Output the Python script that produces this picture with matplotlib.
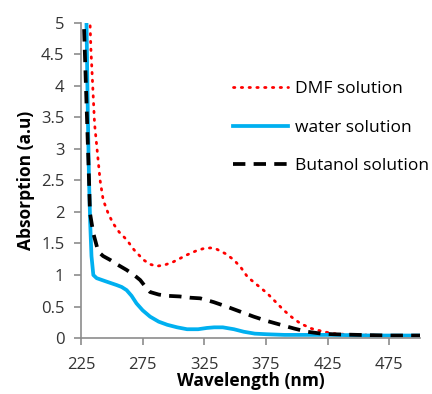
import matplotlib
matplotlib.use('Agg')
from matplotlib import pyplot as plt

# values
dmf_x = [232, 233, 236, 240.5, 243, 247, 251, 256, 262, 268, 275.7, 281, 286.5, 293, 300, 306, 311, 318, 324.4, 330, 335, 342, 349, 355, 360, 368, 376, 383, 389.5, 396, 403, 412, 422, 430, 438, 450, 470, 500]
dmf_y = [5.2, 4.6, 3.4, 2.5, 2.19, 1.98, 1.82, 1.68, 1.56, 1.4, 1.24, 1.17, 1.14, 1.16, 1.21, 1.27, 1.32, 1.38, 1.42, 1.43, 1.41, 1.34, 1.24, 1.11, 0.97, 0.84, 0.71, 0.57, 0.44, 0.33, 0.23, 0.15, 0.1, 0.07, 0.06, 0.05, 0.04, 0.04]

water_x = [229.3, 230.5, 231.5, 232.5, 233.5, 235, 237.7, 245, 254, 258, 262, 266, 270, 275, 281, 288, 295, 303, 311, 320, 327, 333, 340, 349, 357, 366, 376, 390, 410, 430, 460, 500]
water_y = [5.2, 3.6, 2.5, 1.8, 1.3, 1.0, 0.95, 0.9, 0.84, 0.81, 0.76, 0.67, 0.55, 0.44, 0.34, 0.26, 0.21, 0.17, 0.14, 0.14, 0.16, 0.17, 0.17, 0.14, 0.1, 0.07, 0.06, 0.05, 0.05, 0.05, 0.04, 0.04]

butanol_x = [227.5, 229, 230.5, 231.5, 232.3, 235, 239, 243, 248.6, 255, 262, 268, 273, 277, 281, 288, 295, 305, 313.6, 321.7, 332.6, 343, 354, 365, 376, 387, 398, 408.5, 420, 430, 450, 475, 500]
butanol_y = [4.9, 4.0, 3.1, 2.5, 1.98, 1.66, 1.37, 1.3, 1.24, 1.16, 1.08, 1.0, 0.92, 0.82, 0.73, 0.69, 0.67, 0.66, 0.64, 0.63, 0.57, 0.5, 0.42, 0.34, 0.27, 0.21, 0.15, 0.1, 0.07, 0.06, 0.05, 0.04, 0.04]

x_ticks = [225, 275, 325, 375, 425, 475]
y_ticks = [0, 0.5, 1, 1.5, 2, 2.5, 3, 3.5, 4, 4.5, 5]
y_tick_labels = ['0', '0.5', '1', '1.5', '2', '2.5', '3', '3.5', '4', '4.5', '5']

plt.rcParams['font.family'] = ['Open Sans', 'DejaVu Sans']

fig = plt.figure(figsize=(4.32, 3.94), dpi=100)
ax = fig.add_axes([0.1875, 0.142, 0.785, 0.800])

ax.plot(dmf_x, dmf_y, color='#ff0000', linestyle=(0, (0.5, 2.3)), linewidth=2.0,
        dash_capstyle='round', label='DMF solution')
ax.plot(water_x, water_y, color='#00b0f0', linewidth=2.7, label='water solution')
ax.plot(butanol_x, butanol_y, color='black', linestyle=(0, (3.3, 2.2)), linewidth=2.7,
        label='Butanol solution')

ax.set_xlim(225, 500)
ax.set_ylim(0, 5)
ax.set_xticks(x_ticks)
ax.set_yticks(y_ticks)
ax.set_yticklabels(y_tick_labels)

for s in ['top', 'right']:
    ax.spines[s].set_visible(False)
for s in ['left', 'bottom']:
    ax.spines[s].set_color('#8c8c8c')
    ax.spines[s].set_linewidth(1.2)
ax.tick_params(direction='out', length=5, width=1.2, color='#8c8c8c',
               labelsize=12, labelcolor='#333333')
ax.tick_params(axis='y', pad=7)
ax.tick_params(axis='x', pad=9)

ax.set_xlabel('Wavelength (nm)', fontsize=12.5, fontweight='bold', labelpad=-1)
ax.set_ylabel('Absorption (a.u)', fontsize=12.5, fontweight='bold', labelpad=4)

ax.legend(loc='upper left', bbox_to_anchor=(0.448, 0.816), frameon=False,
          fontsize=12.5, labelspacing=1.3, handlelength=3.2, handletextpad=0.35,
          borderaxespad=0, borderpad=0)

fig.savefig('out.png', dpi=100)
